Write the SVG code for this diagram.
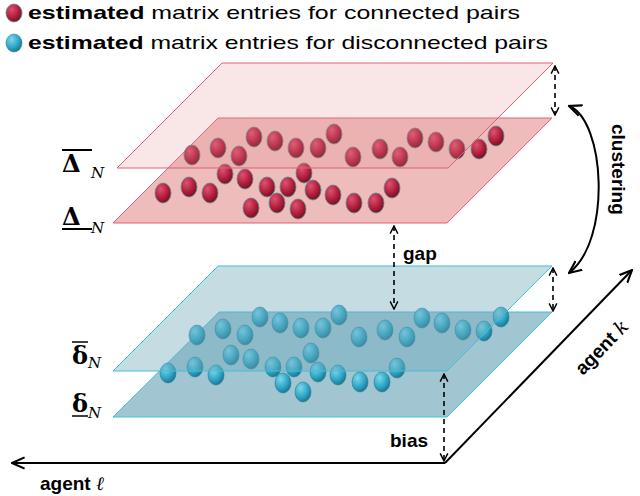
<svg xmlns="http://www.w3.org/2000/svg" width="640" height="496" viewBox="0 0 640 496">
<defs>
<radialGradient id="rg" cx="0.35" cy="0.3" r="0.75"><stop offset="0" stop-color="#e05070"/><stop offset="0.6" stop-color="#b01e3c"/><stop offset="1" stop-color="#70101f"/></radialGradient>
<radialGradient id="bg" cx="0.35" cy="0.3" r="0.75"><stop offset="0" stop-color="#7ad8ee"/><stop offset="0.6" stop-color="#2ea6c4"/><stop offset="1" stop-color="#1a7090"/></radialGradient>
<marker id="ah" viewBox="0 0 10 10" refX="9" refY="5" markerWidth="6" markerHeight="6" orient="auto-start-reverse"><path d="M1,1 L9,5 L1,9" fill="none" stroke="#000" stroke-width="1.5"/></marker>
<marker id="ab" viewBox="0 0 10 10" refX="9" refY="5" markerWidth="7" markerHeight="7" orient="auto-start-reverse"><path d="M0,1 L9,5 L0,9" fill="none" stroke="#000" stroke-width="1.5"/></marker>
</defs>
<style>
.rp{fill:#e58f8f;stroke:#e0607a;stroke-width:1}
.bp{fill:#6fa8ba;stroke:#40c0dc;stroke-width:1}
.r{fill:url(#rg);stroke:#5a8a90;stroke-width:0.8}
.b{fill:url(#bg);stroke:#2a7a90;stroke-width:0.6}
.t{font-family:"Liberation Sans",Arial,sans-serif;font-size:19px;fill:#000}
.bd{font-weight:bold}
.d{fill:none;stroke:#000;stroke-width:1.6;stroke-dasharray:5 4}
.s{fill:none;stroke:#000;stroke-width:2}
.g{font-family:"DejaVu Serif",serif;font-size:24px;font-weight:bold}
.n{font-family:"DejaVu Serif",serif;font-size:15px;font-style:italic}
</style>
<g id="legend">
<ellipse class="r" cx="14" cy="13" rx="8" ry="9"/>
<text class="t" x="28" y="19" textLength="492" lengthAdjust="spacingAndGlyphs"><tspan class="bd">estimated</tspan> matrix entries for connected pairs</text>
<ellipse class="b" cx="14" cy="43" rx="8" ry="9"/>
<text class="t" x="28" y="49" textLength="520" lengthAdjust="spacingAndGlyphs"><tspan class="bd">estimated</tspan> matrix entries for disconnected pairs</text>
</g>
<g id="axes">
<path class="s" d="M445,463 L12,463" marker-end="url(#ab)"/>
<path class="s" d="M445,463 L632,270" marker-end="url(#ab)"/>
<text class="t bd" x="40" y="490" font-size="20">agent <tspan font-family="DejaVu Serif" font-style="italic" font-weight="normal">ℓ</tspan></text>
<text class="t bd" transform="translate(583,376) rotate(-46)" font-size="20">agent <tspan font-family="DejaVu Serif" font-style="italic" font-weight="normal">k</tspan></text>
</g>
<g id="blue-planes">
<polygon class="bp" style="fill-opacity:0.65" points="219,312 552,312 447,417 113,417"/>
<g id="blue-lower-spheres">
<ellipse class="b" cx="168" cy="373" rx="8" ry="10"/><ellipse class="b" cx="195" cy="367" rx="8" ry="10"/><ellipse class="b" cx="216" cy="375" rx="8" ry="10"/><ellipse class="b" cx="231" cy="355" rx="8" ry="10"/><ellipse class="b" cx="251" cy="359" rx="8" ry="10"/><ellipse class="b" cx="273" cy="367" rx="8" ry="10"/><ellipse class="b" cx="294" cy="367" rx="8" ry="10"/><ellipse class="b" cx="311" cy="353" rx="8" ry="10"/><ellipse class="b" cx="318" cy="372" rx="8" ry="10"/><ellipse class="b" cx="338" cy="375" rx="8" ry="10"/><ellipse class="b" cx="360" cy="382" rx="8" ry="10"/><ellipse class="b" cx="382" cy="382" rx="8" ry="10"/><ellipse class="b" cx="397" cy="368" rx="8" ry="10"/><ellipse class="b" cx="283" cy="383" rx="8" ry="10"/><ellipse class="b" cx="303" cy="392" rx="8" ry="10"/>
<ellipse class="b" cx="197" cy="335" rx="8" ry="10"/><ellipse class="b" cx="223" cy="329" rx="8" ry="10"/><ellipse class="b" cx="245" cy="335" rx="8" ry="10"/><ellipse class="b" cx="260" cy="317" rx="8" ry="10"/><ellipse class="b" cx="280" cy="323" rx="8" ry="10"/><ellipse class="b" cx="301" cy="328" rx="8" ry="10"/><ellipse class="b" cx="323" cy="328" rx="8" ry="10"/><ellipse class="b" cx="339" cy="315" rx="8" ry="10"/><ellipse class="b" cx="359" cy="337" rx="8" ry="10"/><ellipse class="b" cx="385" cy="330" rx="8" ry="10"/><ellipse class="b" cx="407" cy="337" rx="8" ry="10"/><ellipse class="b" cx="422" cy="318" rx="8" ry="10"/><ellipse class="b" cx="442" cy="323" rx="8" ry="10"/><ellipse class="b" cx="463" cy="330" rx="8" ry="10"/><ellipse class="b" cx="484" cy="331" rx="8" ry="10"/><ellipse class="b" cx="501" cy="317" rx="8" ry="10"/>
</g>
<polygon class="bp" style="fill-opacity:0.4" points="218,266 552,266 447,371 113,371"/>
</g>
<g id="red-planes">
<polygon class="rp" style="fill-opacity:0.6" points="218,118 552,118 447,223 113,223"/>
<g id="red-spheres">
<ellipse class="r" cx="163" cy="193" rx="8" ry="10"/><ellipse class="r" cx="189" cy="187" rx="8" ry="10"/><ellipse class="r" cx="210" cy="193" rx="8" ry="10"/><ellipse class="r" cx="225" cy="174" rx="8" ry="10"/><ellipse class="r" cx="245" cy="179" rx="8" ry="10"/><ellipse class="r" cx="267" cy="187" rx="8" ry="10"/><ellipse class="r" cx="288" cy="187" rx="8" ry="10"/><ellipse class="r" cx="304" cy="173" rx="8" ry="10"/><ellipse class="r" cx="313" cy="190" rx="8" ry="10"/><ellipse class="r" cx="333" cy="195" rx="8" ry="10"/><ellipse class="r" cx="354" cy="203" rx="8" ry="10"/><ellipse class="r" cx="376" cy="203" rx="8" ry="10"/><ellipse class="r" cx="392" cy="188" rx="8" ry="10"/><ellipse class="r" cx="251" cy="208" rx="8" ry="10"/><ellipse class="r" cx="277" cy="203" rx="8" ry="10"/><ellipse class="r" cx="298" cy="209" rx="8" ry="10"/>
<ellipse class="r" cx="192" cy="155" rx="8" ry="10"/><ellipse class="r" cx="218" cy="148" rx="8" ry="10"/><ellipse class="r" cx="239" cy="156" rx="8" ry="10"/><ellipse class="r" cx="254" cy="137" rx="8" ry="10"/><ellipse class="r" cx="275" cy="141" rx="8" ry="10"/><ellipse class="r" cx="296" cy="148" rx="8" ry="10"/><ellipse class="r" cx="318" cy="148" rx="8" ry="10"/><ellipse class="r" cx="334" cy="134" rx="8" ry="10"/><ellipse class="r" cx="353" cy="157" rx="8" ry="10"/><ellipse class="r" cx="380" cy="149" rx="8" ry="10"/><ellipse class="r" cx="400" cy="157" rx="8" ry="10"/><ellipse class="r" cx="415" cy="138" rx="8" ry="10"/><ellipse class="r" cx="436" cy="142" rx="8" ry="10"/><ellipse class="r" cx="457" cy="149" rx="8" ry="10"/><ellipse class="r" cx="479" cy="149" rx="8" ry="10"/><ellipse class="r" cx="496" cy="136" rx="8" ry="10"/>
</g>
<polygon class="rp" style="fill-opacity:0.22" points="222,63 553,63 448,168 117,168"/>
</g>
<g id="labels">
<text class="g" x="62" y="172">Δ</text><line x1="62" y1="150" x2="92" y2="150" stroke="#000" stroke-width="2"/><text class="n" x="91" y="178">N</text>
<text class="g" x="62" y="225">Δ</text><line x1="62" y1="229" x2="92" y2="229" stroke="#000" stroke-width="2"/><text class="n" x="91" y="233">N</text>
<text class="g" x="72" y="364">δ</text><line x1="72" y1="342" x2="88" y2="342" stroke="#000" stroke-width="1.5"/><text class="n" x="88" y="368">N</text>
<text class="g" x="72" y="412">δ</text><line x1="72" y1="416" x2="88" y2="416" stroke="#000" stroke-width="1.5"/><text class="n" x="88" y="418">N</text>
</g>
<g id="connectors">
<path class="d" d="M555,66 L555,115" marker-start="url(#ah)" marker-end="url(#ah)"/>
<path class="d" d="M394,226 L394,309" marker-start="url(#ah)" marker-end="url(#ah)"/>
<path class="d" d="M553,268 L553,311" marker-start="url(#ah)" marker-end="url(#ah)"/>
<path class="d" d="M444,374 L444,461" marker-start="url(#ah)" marker-end="url(#ah)"/>
<path d="M569,106 C605,120 612,240 569,273" fill="none" stroke="#000" stroke-width="2" marker-start="url(#ab)" marker-end="url(#ab)"/>
<text class="t bd" x="403" y="260" font-size="20">gap</text>
<text class="t bd" x="390" y="447" font-size="20">bias</text>
<text class="t bd" transform="translate(612,124) rotate(90)" font-size="20">clustering</text>
</g>
</svg>
